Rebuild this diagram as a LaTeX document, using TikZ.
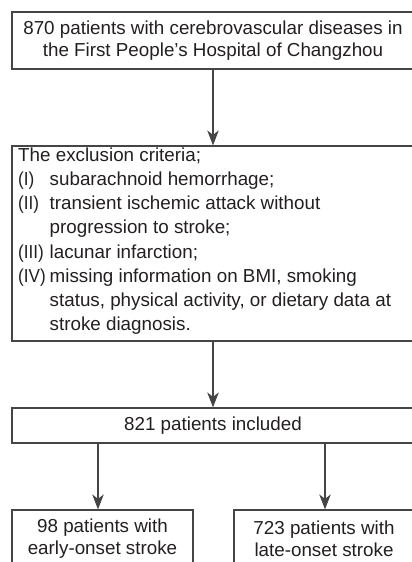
\documentclass[tikz,border=0pt]{standalone}
\usepackage{fontspec}
\usepackage{graphicx}
\setmainfont{Liberation Sans}
\usetikzlibrary{arrows.meta}
\definecolor{linegray}{HTML}{454545}
\definecolor{txt}{HTML}{231F20}
\tikzset{
  box/.style={draw=linegray, line width=1.2pt, rectangle, inner sep=0pt, align=center,
              text=txt, font=\fontsize{18.8}{22}\selectfont},
  arr/.style={draw=linegray, line width=1.2pt, -{Stealth[length=15pt, width=11.5pt, inset=4.5pt]}},
  lab/.style={text=txt, inner sep=0pt, align=left, font=\fontsize{18.8}{24.2}\selectfont}
}
\newcommand{\itm}[1]{\makebox[31.5pt][l]{\scalebox{0.91}[1]{#1}}}
\begin{document}
\begin{tikzpicture}[x=1pt, y=-1pt]
\useasboundingbox (0,0) rectangle (412,562);
\clip (0,0) rectangle (412,562);
\node[box, minimum width=402pt, minimum height=57pt] (top) at (213,40.5)
  {870 patients with cerebrovascular diseases in\\the First People’s Hospital of Changzhou};
\node[box, minimum width=402pt, minimum height=195pt] (excl) at (213,243.5) {};
\node[lab, anchor=north west] (excltext) at (18,147.5)
  {The exclusion criteria;\\
   \itm{(I)}subarachnoid hemorrhage;\\
   \itm{(II)}transient ischemic attack without\\
   \itm{}progression to stroke;\\
   \itm{(III)}lacunar infarction;\\
   \itm{(IV)}missing information on BMI, smoking\\
   \itm{}status, physical activity, or dietary data at\\
   \itm{}stroke diagnosis.};
\node[box, minimum width=402pt, minimum height=35pt] (incl) at (213,425.5) {821 patients included};
\node[box, minimum width=181pt, minimum height=58pt] (early) at (102.5,539)
  {98 patients with\\early-onset stroke};
\node[box, minimum width=180pt, minimum height=58pt] (late) at (324,539)
  {723 patients with\\late-onset stroke};
\draw[arr] (top) -- (excl);
\draw[arr] (excl) -- (incl);
\draw[arr] ([xshift=-4.5pt]early.north |- incl.south) -- ([xshift=-4.5pt]early.north);
\draw[arr] ([xshift=1pt]late.north |- incl.south) -- ([xshift=1pt]late.north);
\end{tikzpicture}
\end{document}
